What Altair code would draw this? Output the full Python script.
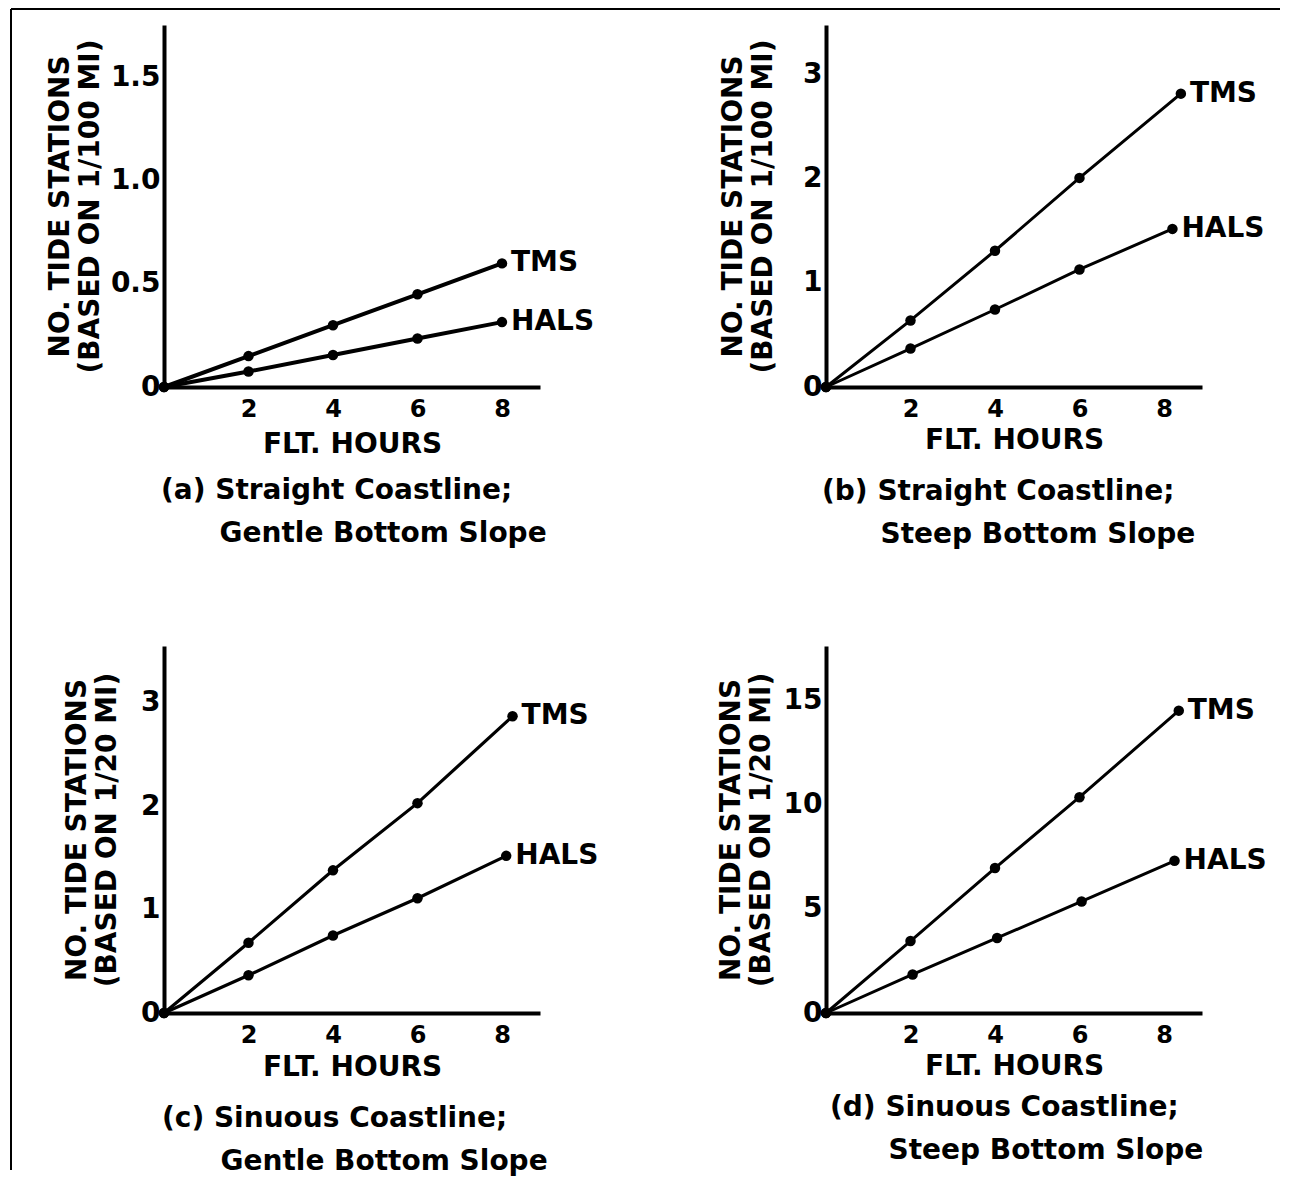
import altair as alt
import pandas as pd

FONT = "DejaVu Sans"
NBSP = "\u00a0"
ZWSP = "\u200b"

# ---- data ----
X_TICKS = [2, 4, 6, 8]
X_MAX = 8.9

# (a) Straight coastline; gentle bottom slope  (per 1/100 mi)
A_TMS_X = [0, 2, 4, 6, 8]
A_TMS_Y = [0, 0.15, 0.30, 0.45, 0.60]
A_HALS_X = [0, 2, 4, 6, 8]
A_HALS_Y = [0, 0.075, 0.155, 0.235, 0.315]
A_YTICKS = [0, 0.5, 1.0, 1.5]

# (b) Straight coastline; steep bottom slope  (per 1/100 mi)
B_TMS_X = [0, 2, 4, 6, 8.4]
B_TMS_Y = [0, 0.64, 1.31, 2.01, 2.82]
B_HALS_X = [0, 2, 4, 6, 8.2]
B_HALS_Y = [0, 0.37, 0.745, 1.13, 1.52]
B_YTICKS = [0, 1, 2, 3]

# (c) Sinuous coastline; gentle bottom slope  (per 1/20 mi)
C_TMS_X = [0, 2, 4, 6, 8.25]
C_TMS_Y = [0, 0.68, 1.38, 2.03, 2.87]
C_HALS_X = [0, 2, 4, 6, 8.1]
C_HALS_Y = [0, 0.365, 0.75, 1.11, 1.52]
C_YTICKS = [0, 1, 2, 3]

# (d) Sinuous coastline; steep bottom slope  (per 1/20 mi)
D_TMS_X = [0, 2, 4, 6, 8.35]
D_TMS_Y = [0, 3.45, 6.95, 10.35, 14.5]
D_HALS_X = [0, 2.05, 4.05, 6.05, 8.25]
D_HALS_Y = [0, 1.85, 3.6, 5.35, 7.3]
D_YTICKS = [0, 5, 10, 15]

SERIES = ["TMS", "HALS"]
X_TITLE = "FLT. HOURS"
Y_TITLE_100 = ["NO. TIDE STATIONS", "(BASED ON 1/100 MI)"]
Y_TITLE_20 = ["NO. TIDE STATIONS", "(BASED ON 1/20 MI)"]

W = 376
H_TOP = 362
H_BOT = 367


def panel(tms_x, tms_y, hals_x, hals_y, y_max, y_ticks, y_title, caption,
          height, stroke, y_tpad, x_tpad, cap_offset, cap_dx,
          label_expr="format(datum.value, 'd')", extra=None):
    n_t, n_h = len(tms_x), len(hals_x)
    df = pd.DataFrame({
        "hours": tms_x + hals_x,
        "stations": tms_y + hals_y,
        "series": [SERIES[0]] * n_t + [SERIES[1]] * n_h,
        "order": list(range(n_t)) + list(range(n_h)),
        "last": [i == n_t - 1 for i in range(n_t)] + [i == n_h - 1 for i in range(n_h)],
    })
    x = alt.X("hours:Q", scale=alt.Scale(domain=[0, X_MAX], nice=False, zero=True),
              axis=alt.Axis(values=X_TICKS, title=X_TITLE, titlePadding=x_tpad))
    y = alt.Y("stations:Q", scale=alt.Scale(domain=[0, y_max], nice=False, zero=True),
              axis=alt.Axis(values=y_ticks, title=y_title, titlePadding=y_tpad,
                            labelExpr=label_expr))
    base = alt.Chart(df)
    line = base.mark_line(color="black", strokeWidth=stroke).encode(
        x=x, y=y, detail="series:N", order="order:Q")
    pts = base.mark_circle(color="black", size=110, opacity=1).encode(
        x="hours:Q", y="stations:Q")
    lab = base.transform_filter(alt.datum.last).mark_text(
        align="left", baseline="middle", dx=9, font=FONT, fontSize=28,
        fontWeight="bold", color="black").encode(
        x="hours:Q", y="stations:Q", text="series:N")
    layers = ([extra] if extra is not None else []) + [line, pts, lab]
    return alt.layer(*layers).properties(
        width=W, height=height,
        title=alt.TitleParams(
            text=[caption[0], ZWSP + NBSP * 6 + caption[1]],
            orient="bottom", anchor="start", frame="group",
            offset=cap_offset, dx=cap_dx,
            font=FONT, fontSize=28, fontWeight="bold", lineHeight=43,
            color="black"),
    )


frame_df = pd.DataFrame({"f": [0]})
top_border = alt.Chart(frame_df).mark_rule(color="black", strokeWidth=2).encode(
    x=alt.value(-153), x2=alt.value(1116), y=alt.value(-16))
left_border = alt.Chart(frame_df).mark_rule(color="black", strokeWidth=2).encode(
    x=alt.value(-153), y=alt.value(-637), y2=alt.value(524))

pa = panel(A_TMS_X, A_TMS_Y, A_HALS_X, A_HALS_Y, 1.757, A_YTICKS, Y_TITLE_100,
           ["(a) Straight Coastline;", "Gentle Bottom Slope"],
           H_TOP, 4, 6, 9, 19, -3,
           label_expr="datum.value == 0 ? '0' : format(datum.value, '.1f')",
           extra=top_border)
pb = panel(B_TMS_X, B_TMS_Y, B_HALS_X, B_HALS_Y, 3.48, B_YTICKS, Y_TITLE_100,
           ["(b) Straight Coastline;", "Steep Bottom Slope"],
           H_TOP, 3, 25, 5, 24, -4)
pc = panel(C_TMS_X, C_TMS_Y, C_HALS_X, C_HALS_Y, 3.55, C_YTICKS, Y_TITLE_20,
           ["(c) Sinuous Coastline;", "Gentle Bottom Slope"],
           H_BOT, 3.2, 19, 6, -66, -2, extra=left_border)
pd_ = panel(D_TMS_X, D_TMS_Y, D_HALS_X, D_HALS_Y, 17.6, D_YTICKS, Y_TITLE_20,
            ["(d) Sinuous Coastline;", "Steep Bottom Slope"],
            H_BOT, 3, 8, 5, 14, 4)

chart = alt.concat(
    pa, pb, pc, pd_, columns=2,
    spacing={"row": 259, "column": 286}, bounds="flush",
).properties(
    padding={"left": 2, "top": 0, "right": 2, "bottom": 2},
    background="white",
).configure_view(stroke=None).configure_axis(
    domainColor="black", domainWidth=4, ticks=False, tickSize=0, grid=False,
    labelFont=FONT, labelFontWeight="bold", labelColor="black",
    titleFont=FONT, titleFontWeight="bold", titleColor="black",
    titleFontSize=28, titleLineHeight=30,
).configure_axisX(labelFontSize=24, labelPadding=10).configure_axisY(
    labelFontSize=28, labelPadding=4)

chart.save("out.html", embed_options={"renderer": "svg", "actions": False})
